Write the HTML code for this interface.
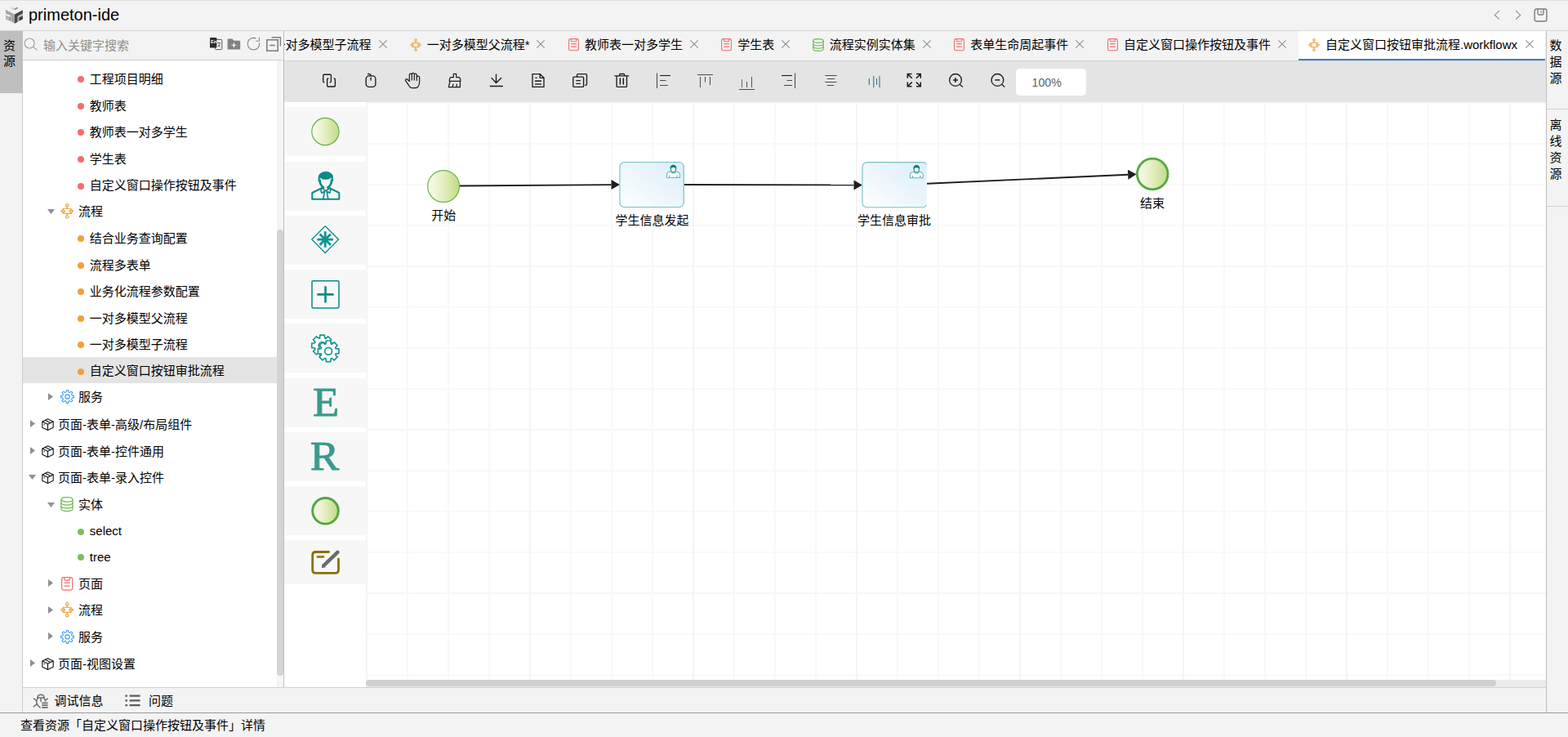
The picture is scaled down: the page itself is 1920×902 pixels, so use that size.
<!DOCTYPE html><html lang="zh-CN"><head><meta charset="utf-8"><title>primeton-ide</title><style>
*{box-sizing:border-box;margin:0;padding:0}
html,body{width:1920px;height:902px;overflow:hidden;background:#f3f3f3}
body{font-family:"Liberation Sans","Noto Sans CJK SC",sans-serif;font-size:15px;color:#000;position:relative}
.abs{position:absolute}
svg{position:absolute;overflow:visible}
.t{position:absolute;white-space:nowrap;line-height:20px;height:20px}
</style></head><body>
<div class="abs" style="left:0;top:0;width:1920px;height:1px;background:#dedede"></div>
<div class="abs" style="left:0;top:37px;width:1920px;height:1px;background:#d6d6d6"></div>
<div class="abs" style="left:0;top:38px;width:28px;height:834px;background:#f3f3f3;border-right:1px solid #cdcdcd"></div>
<div class="abs" style="left:0;top:38px;width:27.5px;height:76.4px;background:#bfbfbf"></div>
<div class="t" style="left:3.5px;top:45.6px;width:16px;text-align:center">资</div>
<div class="t" style="left:3.5px;top:64.8px;width:16px;text-align:center">源</div>
<div class="abs" style="left:28px;top:73px;width:319px;height:1px;background:#cfcfcf"></div>
<div class="abs" style="left:28px;top:74px;width:311px;height:767px;background:#fff"></div>
<div class="abs" style="left:339px;top:74px;width:8px;height:767px;background:#f5f5f5"></div>
<div class="abs" style="left:339px;top:281px;width:8px;height:546px;background:#d4d4d4;border-radius:4px"></div>
<div class="abs" style="left:347px;top:38px;width:1px;height:803px;background:#bdbdbd"></div>
<div class="abs" style="left:348px;top:74px;width:1545px;height:1px;background:#d2d2d2"></div>
<div class="abs" style="left:348px;top:75px;width:1545px;height:50px;background:#e4e4e4"></div>
<div class="abs" style="left:348px;top:125px;width:1545px;height:716px;background:#fff"></div>
<div class="abs" style="left:448px;top:832px;width:1445px;height:9px;background:#ebebeb"></div>
<div class="abs" style="left:448px;top:832px;width:1384px;height:8px;background:#d0d0d0;border-radius:4px"></div>
<div class="abs" style="left:28px;top:841px;width:1865px;height:1px;background:#d2d2d2"></div>
<div class="abs" style="left:0;top:872px;width:1920px;height:1px;background:#9a9a9a"></div>
<div class="abs" style="left:1893px;top:38px;width:1px;height:834px;background:#bdbdbd"></div>
<div class="abs" style="left:1894px;top:133px;width:26px;height:1px;background:#d0d0d0"></div>
<div class="abs" style="left:1894px;top:252px;width:26px;height:1px;background:#d0d0d0"></div>
<div class="t" style="left:1897px;top:46px;width:16px;text-align:center">数</div>
<div class="t" style="left:1897px;top:66px;width:16px;text-align:center">据</div>
<div class="t" style="left:1897px;top:86px;width:16px;text-align:center">源</div>
<div class="t" style="left:1897px;top:143px;width:16px;text-align:center">离</div>
<div class="t" style="left:1897px;top:163px;width:16px;text-align:center">线</div>
<div class="t" style="left:1897px;top:183px;width:16px;text-align:center">资</div>
<div class="t" style="left:1897px;top:203px;width:16px;text-align:center">源</div>
<div class="t" style="left:35px;top:6px;font-size:20px;line-height:24px;height:24px">primeton-ide</div>
<div class="t" style="left:25px;top:878px">查看资源「自定义窗口操作按钮及事件」详情</div>
<div class="t" style="left:66.6px;top:848.2px">调试信息</div>
<div class="t" style="left:182px;top:848.2px">问题</div>
<div class="t" style="left:53px;top:45.6px;color:#8e8e8e">输入关键字搜索</div>
<div class="abs" style="left:28px;top:437px;width:311px;height:32px;background:#e4e4e4"></div>
<div class="abs" style="left:95px;top:93.1px;width:8px;height:8px;border-radius:50%;background:#f56c6c"></div>
<div class="t" style="left:109.8px;top:87.0px">工程项目明细</div>
<div class="abs" style="left:95px;top:125.69999999999999px;width:8px;height:8px;border-radius:50%;background:#f56c6c"></div>
<div class="t" style="left:109.8px;top:119.6px">教师表</div>
<div class="abs" style="left:95px;top:158.3px;width:8px;height:8px;border-radius:50%;background:#f56c6c"></div>
<div class="t" style="left:109.8px;top:152.2px">教师表一对多学生</div>
<div class="abs" style="left:95px;top:190.9px;width:8px;height:8px;border-radius:50%;background:#f56c6c"></div>
<div class="t" style="left:109.8px;top:184.8px">学生表</div>
<div class="abs" style="left:95px;top:223.5px;width:8px;height:8px;border-radius:50%;background:#f56c6c"></div>
<div class="t" style="left:109.8px;top:217.4px">自定义窗口操作按钮及事件</div>
<svg style="left:57.8px;top:256.0px" width="9" height="6" viewBox="0 0 9 6"><path d="M0 0H9L4.5 6Z" fill="#909090"/></svg>
<svg style="left:73.81px;top:249.44px" width="16.38" height="18.72" viewBox="0 0 14 16"><g fill="none" stroke="#e6a23c" stroke-width="1.0"><circle cx="7" cy="2" r="1.4"/><circle cx="7" cy="14" r="1.4"/><path d="M7 3.4V5.35M7 10.65V12.6" stroke-width="1.2"/><path d="M2.8 7.1V5.35H11.2V7.1M2.8 8.9V10.65H11.2V8.9"/><rect x="0.7" y="7.1" width="4.1" height="1.8" rx="0.9"/><rect x="9.2" y="7.1" width="4.1" height="1.8" rx="0.9"/></g></svg>
<div class="t" style="left:96.0px;top:249.4px">流程</div>
<div class="abs" style="left:95px;top:288.4px;width:8px;height:8px;border-radius:50%;background:#f2a03c"></div>
<div class="t" style="left:109.8px;top:282.3px">结合业务查询配置</div>
<div class="abs" style="left:95px;top:320.6px;width:8px;height:8px;border-radius:50%;background:#f2a03c"></div>
<div class="t" style="left:109.8px;top:314.5px">流程多表单</div>
<div class="abs" style="left:95px;top:353.2px;width:8px;height:8px;border-radius:50%;background:#f2a03c"></div>
<div class="t" style="left:109.8px;top:347.1px">业务化流程参数配置</div>
<div class="abs" style="left:95px;top:385.8px;width:8px;height:8px;border-radius:50%;background:#f2a03c"></div>
<div class="t" style="left:109.8px;top:379.7px">一对多模型父流程</div>
<div class="abs" style="left:95px;top:418.3px;width:8px;height:8px;border-radius:50%;background:#f2a03c"></div>
<div class="t" style="left:109.8px;top:412.2px">一对多模型子流程</div>
<div class="abs" style="left:95px;top:450.5px;width:8px;height:8px;border-radius:50%;background:#f2a03c"></div>
<div class="t" style="left:109.8px;top:444.4px">自定义窗口按钮审批流程</div>
<svg style="left:59.3px;top:480.9px" width="6" height="9" viewBox="0 0 6 9"><path d="M0 0L6 4.5L0 9Z" fill="#909090"/></svg>
<svg style="left:73.6px;top:477.3px" width="17" height="17" viewBox="0 0 17 17"><g fill="none" stroke="#409eff" stroke-width="1.15" stroke-linejoin="round"><path d="M7.10 2.67 L7.44 0.57 L9.56 0.57 L9.90 2.67 L11.63 3.38 L13.35 2.14 L14.86 3.65 L13.62 5.37 L14.33 7.10 L16.43 7.44 L16.43 9.56 L14.33 9.90 L13.62 11.63 L14.86 13.35 L13.35 14.86 L11.63 13.62 L9.90 14.33 L9.56 16.43 L7.44 16.43 L7.10 14.33 L5.37 13.62 L3.65 14.86 L2.14 13.35 L3.38 11.63 L2.67 9.90 L0.57 9.56 L0.57 7.44 L2.67 7.10 L3.38 5.37 L2.14 3.65 L3.65 2.14 L5.37 3.38Z"/><circle cx="8.5" cy="8.5" r="2.6"/></g></svg>
<div class="t" style="left:96.0px;top:476.4px">服务</div>
<svg style="left:36.8px;top:514.1px" width="6" height="9" viewBox="0 0 6 9"><path d="M0 0L6 4.5L0 9Z" fill="#909090"/></svg>
<svg style="left:51.1px;top:512.1px" width="15" height="15.2" viewBox="0 0 15 15.2"><g fill="none" stroke="#111" stroke-width="1.1" stroke-linejoin="round"><path d="M7.5 0.7L14.2 3.9V11.3L7.5 14.5L0.8 11.3V3.9Z"/><path d="M0.8 3.9L7.5 7.2L14.2 3.9M7.5 7.2V14.5"/><path d="M4.1 2.3L10.8 5.6" /><path d="M3.2 6.6V8.4" stroke-width="1"/></g></svg>
<div class="t" style="left:71.1px;top:509.6px">页面-表单-高级/布局组件</div>
<svg style="left:36.8px;top:547.0px" width="6" height="9" viewBox="0 0 6 9"><path d="M0 0L6 4.5L0 9Z" fill="#909090"/></svg>
<svg style="left:51.1px;top:545.0px" width="15" height="15.2" viewBox="0 0 15 15.2"><g fill="none" stroke="#111" stroke-width="1.1" stroke-linejoin="round"><path d="M7.5 0.7L14.2 3.9V11.3L7.5 14.5L0.8 11.3V3.9Z"/><path d="M0.8 3.9L7.5 7.2L14.2 3.9M7.5 7.2V14.5"/><path d="M4.1 2.3L10.8 5.6" /><path d="M3.2 6.6V8.4" stroke-width="1"/></g></svg>
<div class="t" style="left:71.1px;top:542.5px">页面-表单-控件通用</div>
<svg style="left:35.3px;top:581.4px" width="9" height="6" viewBox="0 0 9 6"><path d="M0 0H9L4.5 6Z" fill="#909090"/></svg>
<svg style="left:51.1px;top:577.3px" width="15" height="15.2" viewBox="0 0 15 15.2"><g fill="none" stroke="#111" stroke-width="1.1" stroke-linejoin="round"><path d="M7.5 0.7L14.2 3.9V11.3L7.5 14.5L0.8 11.3V3.9Z"/><path d="M0.8 3.9L7.5 7.2L14.2 3.9M7.5 7.2V14.5"/><path d="M4.1 2.3L10.8 5.6" /><path d="M3.2 6.6V8.4" stroke-width="1"/></g></svg>
<div class="t" style="left:71.1px;top:574.8px">页面-表单-录入控件</div>
<svg style="left:57.8px;top:614.5px" width="9" height="6" viewBox="0 0 9 6"><path d="M0 0H9L4.5 6Z" fill="#909090"/></svg>
<svg style="left:74.12px;top:608.18px" width="15.96" height="18.24" viewBox="0 0 14 16"><g fill="none" stroke="#74b957" stroke-width="1.1"><ellipse cx="7" cy="3" rx="6.2" ry="2.4"/><path d="M0.8 3V13C0.8 14.4 3.6 15.4 7 15.4S13.2 14.4 13.2 13V3"/><path d="M0.8 6.4C0.8 7.8 3.6 8.8 7 8.8S13.2 7.8 13.2 6.4"/><path d="M0.8 9.8C0.8 11.2 3.6 12.2 7 12.2S13.2 11.2 13.2 9.8"/></g></svg>
<div class="t" style="left:96.0px;top:607.9px">实体</div>
<div class="abs" style="left:95px;top:646.5px;width:8px;height:8px;border-radius:50%;background:#7cbc5a"></div>
<div class="t" style="left:109.8px;top:640.1px">select</div>
<div class="abs" style="left:95px;top:678.3px;width:8px;height:8px;border-radius:50%;background:#7cbc5a"></div>
<div class="t" style="left:109.8px;top:671.9px">tree</div>
<svg style="left:59.3px;top:709.3px" width="6" height="9" viewBox="0 0 6 9"><path d="M0 0L6 4.5L0 9Z" fill="#909090"/></svg>
<svg style="left:74.85px;top:705.79px" width="14.3" height="16.83" viewBox="0 0 13 15.3"><g fill="none" stroke="#f56c6c" stroke-width="1.1"><rect x="0.6" y="0.6" width="11.8" height="14.1" rx="1.7"/><path d="M3.3 0.8V2.8Q3.3 3.8 4.3 3.8H8.7Q9.7 3.8 9.7 2.8V0.8"/><path d="M3.2 6.7H9.8M3.2 10.1H9.8" stroke-width="1.15"/></g></svg>
<div class="t" style="left:96.0px;top:704.8px">页面</div>
<svg style="left:59.3px;top:741.8px" width="6" height="9" viewBox="0 0 6 9"><path d="M0 0L6 4.5L0 9Z" fill="#909090"/></svg>
<svg style="left:73.81px;top:737.34px" width="16.38" height="18.72" viewBox="0 0 14 16"><g fill="none" stroke="#e6a23c" stroke-width="1.0"><circle cx="7" cy="2" r="1.4"/><circle cx="7" cy="14" r="1.4"/><path d="M7 3.4V5.35M7 10.65V12.6" stroke-width="1.2"/><path d="M2.8 7.1V5.35H11.2V7.1M2.8 8.9V10.65H11.2V8.9"/><rect x="0.7" y="7.1" width="4.1" height="1.8" rx="0.9"/><rect x="9.2" y="7.1" width="4.1" height="1.8" rx="0.9"/></g></svg>
<div class="t" style="left:96.0px;top:737.3px">流程</div>
<svg style="left:59.3px;top:774.3px" width="6" height="9" viewBox="0 0 6 9"><path d="M0 0L6 4.5L0 9Z" fill="#909090"/></svg>
<svg style="left:73.6px;top:770.7px" width="17" height="17" viewBox="0 0 17 17"><g fill="none" stroke="#409eff" stroke-width="1.15" stroke-linejoin="round"><path d="M7.10 2.67 L7.44 0.57 L9.56 0.57 L9.90 2.67 L11.63 3.38 L13.35 2.14 L14.86 3.65 L13.62 5.37 L14.33 7.10 L16.43 7.44 L16.43 9.56 L14.33 9.90 L13.62 11.63 L14.86 13.35 L13.35 14.86 L11.63 13.62 L9.90 14.33 L9.56 16.43 L7.44 16.43 L7.10 14.33 L5.37 13.62 L3.65 14.86 L2.14 13.35 L3.38 11.63 L2.67 9.90 L0.57 9.56 L0.57 7.44 L2.67 7.10 L3.38 5.37 L2.14 3.65 L3.65 2.14 L5.37 3.38Z"/><circle cx="8.5" cy="8.5" r="2.6"/></g></svg>
<div class="t" style="left:96.0px;top:769.8px">服务</div>
<svg style="left:36.8px;top:807.1px" width="6" height="9" viewBox="0 0 6 9"><path d="M0 0L6 4.5L0 9Z" fill="#909090"/></svg>
<svg style="left:51.1px;top:805.1px" width="15" height="15.2" viewBox="0 0 15 15.2"><g fill="none" stroke="#111" stroke-width="1.1" stroke-linejoin="round"><path d="M7.5 0.7L14.2 3.9V11.3L7.5 14.5L0.8 11.3V3.9Z"/><path d="M0.8 3.9L7.5 7.2L14.2 3.9M7.5 7.2V14.5"/><path d="M4.1 2.3L10.8 5.6" /><path d="M3.2 6.6V8.4" stroke-width="1"/></g></svg>
<div class="t" style="left:71.1px;top:802.6px">页面-视图设置</div>
<div class="abs" style="left:348px;top:38px;width:1545px;height:35px;overflow:hidden">
<div class="t" style="left:-13.5px;top:7.0px">一对多模型子流程</div>
<svg style="left:116.30000000000001px;top:11.399999999999999px" width="10" height="10" viewBox="0 0 10 10"><path d="M0.3 0.3L9.7 9.7M9.7 0.3L0.3 9.7" stroke="#8c8f94" stroke-width="1.1" fill="none"/></svg>
<svg style="left:153.7px;top:8.600000000000001px" width="14" height="16" viewBox="0 0 14 16"><g fill="none" stroke="#e6a23c" stroke-width="1.0"><circle cx="7" cy="2" r="1.4"/><circle cx="7" cy="14" r="1.4"/><path d="M7 3.4V5.35M7 10.65V12.6" stroke-width="1.2"/><path d="M2.8 7.1V5.35H11.2V7.1M2.8 8.9V10.65H11.2V8.9"/><rect x="0.7" y="7.1" width="4.1" height="1.8" rx="0.9"/><rect x="9.2" y="7.1" width="4.1" height="1.8" rx="0.9"/></g></svg>
<div class="t" style="left:174.79999999999995px;top:7.0px">一对多模型父流程*</div>
<svg style="left:309.29999999999995px;top:11.399999999999999px" width="10" height="10" viewBox="0 0 10 10"><path d="M0.3 0.3L9.7 9.7M9.7 0.3L0.3 9.7" stroke="#8c8f94" stroke-width="1.1" fill="none"/></svg>
<svg style="left:347.9px;top:8.950000000000001px" width="13" height="15.3" viewBox="0 0 13 15.3"><g fill="none" stroke="#f56c6c" stroke-width="1.1"><rect x="0.6" y="0.6" width="11.8" height="14.1" rx="1.7"/><path d="M3.3 0.8V2.8Q3.3 3.8 4.3 3.8H8.7Q9.7 3.8 9.7 2.8V0.8"/><path d="M3.2 6.7H9.8M3.2 10.1H9.8" stroke-width="1.15"/></g></svg>
<div class="t" style="left:368px;top:7.0px">教师表一对多学生</div>
<svg style="left:496.70000000000005px;top:11.399999999999999px" width="10" height="10" viewBox="0 0 10 10"><path d="M0.3 0.3L9.7 9.7M9.7 0.3L0.3 9.7" stroke="#8c8f94" stroke-width="1.1" fill="none"/></svg>
<svg style="left:534.8000000000001px;top:8.950000000000001px" width="13" height="15.3" viewBox="0 0 13 15.3"><g fill="none" stroke="#f56c6c" stroke-width="1.1"><rect x="0.6" y="0.6" width="11.8" height="14.1" rx="1.7"/><path d="M3.3 0.8V2.8Q3.3 3.8 4.3 3.8H8.7Q9.7 3.8 9.7 2.8V0.8"/><path d="M3.2 6.7H9.8M3.2 10.1H9.8" stroke-width="1.15"/></g></svg>
<div class="t" style="left:555.3px;top:7.0px">学生表</div>
<svg style="left:609.4px;top:11.399999999999999px" width="10" height="10" viewBox="0 0 10 10"><path d="M0.3 0.3L9.7 9.7M9.7 0.3L0.3 9.7" stroke="#8c8f94" stroke-width="1.1" fill="none"/></svg>
<svg style="left:647.4px;top:8.5px" width="14" height="16" viewBox="0 0 14 16"><g fill="none" stroke="#6db650" stroke-width="1.1"><ellipse cx="7" cy="3" rx="6.2" ry="2.4"/><path d="M0.8 3V13C0.8 14.4 3.6 15.4 7 15.4S13.2 14.4 13.2 13V3"/><path d="M0.8 6.4C0.8 7.8 3.6 8.8 7 8.8S13.2 7.8 13.2 6.4"/><path d="M0.8 9.8C0.8 11.2 3.6 12.2 7 12.2S13.2 11.2 13.2 9.8"/></g></svg>
<div class="t" style="left:667.7px;top:7.0px">流程实例实体集</div>
<svg style="left:782px;top:11.399999999999999px" width="10" height="10" viewBox="0 0 10 10"><path d="M0.3 0.3L9.7 9.7M9.7 0.3L0.3 9.7" stroke="#8c8f94" stroke-width="1.1" fill="none"/></svg>
<svg style="left:820.0999999999999px;top:8.950000000000001px" width="13" height="15.3" viewBox="0 0 13 15.3"><g fill="none" stroke="#f56c6c" stroke-width="1.1"><rect x="0.6" y="0.6" width="11.8" height="14.1" rx="1.7"/><path d="M3.3 0.8V2.8Q3.3 3.8 4.3 3.8H8.7Q9.7 3.8 9.7 2.8V0.8"/><path d="M3.2 6.7H9.8M3.2 10.1H9.8" stroke-width="1.15"/></g></svg>
<div class="t" style="left:840.3px;top:7.0px">表单生命周起事件</div>
<svg style="left:969.4000000000001px;top:11.399999999999999px" width="10" height="10" viewBox="0 0 10 10"><path d="M0.3 0.3L9.7 9.7M9.7 0.3L0.3 9.7" stroke="#8c8f94" stroke-width="1.1" fill="none"/></svg>
<svg style="left:1007.8px;top:8.950000000000001px" width="13" height="15.3" viewBox="0 0 13 15.3"><g fill="none" stroke="#f56c6c" stroke-width="1.1"><rect x="0.6" y="0.6" width="11.8" height="14.1" rx="1.7"/><path d="M3.3 0.8V2.8Q3.3 3.8 4.3 3.8H8.7Q9.7 3.8 9.7 2.8V0.8"/><path d="M3.2 6.7H9.8M3.2 10.1H9.8" stroke-width="1.15"/></g></svg>
<div class="t" style="left:1028px;top:7.0px">自定义窗口操作按钮及事件</div>
<svg style="left:1217px;top:11.399999999999999px" width="10" height="10" viewBox="0 0 10 10"><path d="M0.3 0.3L9.7 9.7M9.7 0.3L0.3 9.7" stroke="#8c8f94" stroke-width="1.1" fill="none"/></svg>
</div>
<div class="abs" style="left:1590px;top:38px;width:302px;height:36px;background:#fff;border-bottom:2px solid #3a7fc6"></div>
<svg style="left:1602px;top:46.6px" width="14" height="16" viewBox="0 0 14 16"><g fill="none" stroke="#e6a23c" stroke-width="1.0"><circle cx="7" cy="2" r="1.4"/><circle cx="7" cy="14" r="1.4"/><path d="M7 3.4V5.35M7 10.65V12.6" stroke-width="1.2"/><path d="M2.8 7.1V5.35H11.2V7.1M2.8 8.9V10.65H11.2V8.9"/><rect x="0.7" y="7.1" width="4.1" height="1.8" rx="0.9"/><rect x="9.2" y="7.1" width="4.1" height="1.8" rx="0.9"/></g></svg>
<div class="t" style="left:1623px;top:45.0px">自定义窗口按钮审批流程.workflowx</div>
<svg style="left:1867.5px;top:49.4px" width="10" height="10" viewBox="0 0 10 10"><path d="M0.3 0.3L9.7 9.7M9.7 0.3L0.3 9.7" stroke="#8c8f94" stroke-width="1.1" fill="none"/></svg>
<svg style="left:1828px;top:11px" width="10" height="14" viewBox="0 0 10 14"><path d="M7.9 2.1L2.3 7.4L7.9 12.7" fill="none" stroke="#8a8a8a" stroke-width="1.1"/></svg>
<svg style="left:1854px;top:11px" width="10" height="14" viewBox="0 0 10 14"><path d="M2.1 2.1L7.7 7.4L2.1 12.7" fill="none" stroke="#8a8a8a" stroke-width="1.1"/></svg>
<svg style="left:1878px;top:10px" width="18" height="18" viewBox="0 0 18 18"><g fill="none" stroke="#7b7b7b" stroke-width="1.4"><rect x="1.1" y="1" width="14.8" height="15" rx="2.2"/><path d="M5 1V6.4Q5 8 6.6 8H10.4Q12 8 12 6.4V1" stroke-width="1.3"/><path d="M9.1 3.2V5.8" stroke-width="1.2"/></g></svg>
<svg style="left:29.2px;top:45.8px" width="18" height="17" viewBox="0 0 18 17"><g fill="none" stroke="#9e9e9e" stroke-width="1.1"><circle cx="7.2" cy="7" r="6"/><path d="M11.6 11.4L16.4 15.2"/></g></svg>
<svg style="left:256px;top:45px" width="17" height="17" viewBox="0 0 17 17"><g><rect x="7.6" y="3.4" width="8.2" height="12.2" rx="1" fill="#f6f6f6" stroke="#555" stroke-width="1"/><path d="M10 7.5H14M12 6.6V7.5M10.4 12.4C12 11.6 13 10 13.4 7.6M10.8 9.4C11.4 10.8 12.6 11.8 14 12.4" stroke="#444" stroke-width="0.8" fill="none"/><rect x="1" y="1" width="8.4" height="12.6" rx="1.2" fill="#2e2e2e"/><text x="2" y="8.4" font-size="5.6" font-family="Liberation Sans" fill="#fff" font-weight="bold">En</text></g></svg>
<svg style="left:278px;top:47px" width="17" height="14" viewBox="0 0 17 14"><path d="M1.2 0.6H6.4L8.4 2.8H15C15.7 2.8 16.2 3.3 16.2 4V12.6C16.2 13.2 15.7 13.6 15 13.6H1.8C1.1 13.6 0.6 13.2 0.6 12.6V1.6C0.6 1 0.9 0.6 1.2 0.6Z" fill="#828282"/><path d="M8.4 5.4V11M5.6 8.2H11.2" stroke="#fff" stroke-width="1.1"/></svg>
<svg style="left:302px;top:45px" width="18" height="18" viewBox="0 0 18 18"><g fill="none" stroke="#858585" stroke-width="1.1"><path d="M15.6 7.2A7.3 7.3 0 1 1 11.6 2.1"/><path d="M11 5.2L15.6 5L15.2 0.8"/></g></svg>
<svg style="left:325px;top:44px" width="20" height="20" viewBox="0 0 20 20"><g fill="none" stroke="#808080" stroke-width="1.6"><rect x="1.8" y="4.8" width="13.4" height="13.4"/><path d="M5.2 11.5H11.8"/><path d="M7.6 1.8H18.4V12.6" stroke-width="1.4"/></g></svg>
<svg style="left:0px;top:0.6px" width="70" height="902" viewBox="0 0 70 902"><g fill="none" stroke="#6e6e6e" stroke-width="1.5" stroke-linecap="round"><path d="M46.2 852.5C46.2 848.2 53.9 848.2 53.9 852.5"/><path d="M45.7 853H54.4" stroke-width="1.7"/><path d="M46.3 853.4C44 856.4 43.6 861.2 49.2 864.8"/><path d="M50 854V857.4"/><path d="M53.9 853.4C55 854.6 55.5 855.8 55.6 857"/><path d="M41.3 854L44.8 856.6M41.3 863.6L44.8 861M58.3 854L55.6 856.2"/><path d="M51.3 859.3H58.6M51.3 862.1H58.6M51.3 864.9H58.6" stroke-width="1.8" stroke-linecap="butt"/></g></svg>
<svg style="left:153px;top:850px" width="19" height="15" viewBox="0 0 19 15"><g stroke="#5c5c5c" stroke-width="2.2"><path d="M0.4 1.6H3M0.4 7.4H3M0.4 13.2H3M5.6 1.6H18.6M5.6 7.4H18.6M5.6 13.2H18.6"/></g></svg>
<svg style="left:0;top:0" width="1920" height="130" viewBox="0 0 1920 130"><g fill="none" stroke="#1c1c1c" stroke-width="1.35" stroke-linecap="round" stroke-linejoin="round"><path d="M397 100.9 Q395.7 100.7 395.7 99.6V92.2Q395.7 91.2 396.7 91.2H404.4Q405.4 91.2 405.4 92.2V99.6Q405.4 100.7 404.2 100.9"/><path d="M401.8 96 Q400.6 96.2 400.6 97.3V105Q400.6 106 401.6 106H409.4Q410.4 106 410.4 105V97.3Q410.4 96.2 409.2 96"/></g><g fill="none" stroke="#1c1c1c" stroke-width="1.35" stroke-linecap="round" stroke-linejoin="round"><rect x="448.2" y="92.9" width="11.7" height="13.5" rx="3.6"/><path d="M454.1 95.2V98.1"/><path d="M454.1 92.8C454.1 91 452.6 90.3 450.6 90.5"/></g><path fill="none" stroke="#1c1c1c" stroke-width="1.2" stroke-linecap="round" stroke-linejoin="round" d="M501.3 99.6V91.7a1.5 1.5 0 0 1 3 0V98.0M504.3 91.7V90.9a1.5 1.5 0 0 1 3 0V98.0M507.3 91.7a1.5 1.5 0 0 1 3 0V98.4M510.3 94.7a1.65 1.65 0 0 1 3.3 0V100.5C513.6 103.5 512.9 105.3 511.6 106.5C510.8 107.3 510.0 107.7 508.8 107.7H504.6C503.2 107.7 502.3 107.1 501.5 105.9L496.6 98.6C495.9 97.3 497.6 96.0 498.8 97.0L501.3 99.6"/><path fill="none" stroke="#1c1c1c" stroke-width="1.25" stroke-linecap="round" stroke-linejoin="round" d="M555.3 94.6V90.9Q555.3 90.3 555.9 90.3H558.1Q558.7 90.3 558.7 90.9V94.6H561.4C562.8 94.6 563.9 96.2 563.9 99.3H550.3C550.3 96.2 551.4 94.6 552.8 94.6ZM551.0 99.4L549.3 106.6H563.4L563.4 99.4M554.9 103.2L554.0 106.6M559.4 103.2L558.9 106.6"/><g fill="none" stroke="#1c1c1c" stroke-width="1.35" stroke-linecap="round" stroke-linejoin="round"><path d="M607.5 91.1V101.4M601.9 95.4L607.5 101.5L613.6 95.4M600.3 105.5H615.3"/></g><g fill="none" stroke="#1c1c1c" stroke-width="1.35" stroke-linecap="round" stroke-linejoin="round"><path d="M652 90.6H661.2L666 95.3V106.4H652Z"/><path d="M661.2 90.8V95.3H665.8"/></g><path d="M655.2 95.3H657.8" stroke="#1c1c1c" stroke-width="1.2"/><path d="M655 99.2H663M655 103H663" stroke="#333" stroke-width="1.7"/><g fill="none" stroke="#1c1c1c" stroke-width="1.35" stroke-linecap="round" stroke-linejoin="round"><rect x="701.8" y="94.1" width="12.8" height="12.3" rx="1.2"/><path d="M706.6 93.8V91.8Q706.6 90.6 707.8 90.6H717.3Q718.5 90.6 718.5 91.8V103Q718.5 104.3 716.6 104.3"/></g><path d="M705.3 98.6H711M705.3 102.3H711" stroke="#1c1c1c" stroke-width="1.3"/><g fill="none" stroke="#1c1c1c" stroke-width="1.35" stroke-linecap="round" stroke-linejoin="round"><path d="M752.9 92.8H769.8M758.6 92.6V91.4Q758.6 90.5 759.5 90.5H763.7Q764.6 90.5 764.6 91.4V92.6M755.1 93V105.4Q755.1 106.4 756.1 106.4H766.5Q767.5 106.4 767.5 105.4V93"/><path d="M759.4 96.1V102.9M763.3 96.1V102.9" stroke-width="1.5"/></g><path d="M804.5 89.5L804.5 108" stroke="#5a4458" stroke-width="1.1" fill="none"/><path d="M808 92.5L821 92.5" stroke="#1c1c1c" stroke-width="1.1" fill="none"/><path d="M808 98.5L815.5 98.5" stroke="#4a4a4a" stroke-width="1.0" fill="none"/><path d="M808 104.5L818 104.5" stroke="#4a4a4a" stroke-width="1.0" fill="none"/><path d="M854 91.5L873 91.5" stroke="#4a4a4a" stroke-width="1.0" fill="none"/><path d="M857.5 94L857.5 107" stroke="#5a4a4a" stroke-width="1.0" fill="none"/><path d="M863.5 94L863.5 100.5" stroke="#5a4458" stroke-width="1.0" fill="none"/><path d="M869.5 94L869.5 104" stroke="#5a4458" stroke-width="1.0" fill="none"/><path d="M905 109.5L924 109.5" stroke="#4a4a4a" stroke-width="1.0" fill="none"/><path d="M908.5 97L908.5 107" stroke="#6a6a6a" stroke-width="1.0" fill="none"/><path d="M914.5 100L914.5 107" stroke="#5a4458" stroke-width="1.0" fill="none"/><path d="M920.5 94L920.5 107" stroke="#5a4458" stroke-width="1.0" fill="none"/><path d="M973.5 89.5L973.5 108" stroke="#5a4458" stroke-width="1.1" fill="none"/><path d="M957 92.5L970 92.5" stroke="#1c1c1c" stroke-width="1.1" fill="none"/><path d="M963.5 98.5L970 98.5" stroke="#4a4a4a" stroke-width="1.0" fill="none"/><path d="M960 104.5L970 104.5" stroke="#4a4a4a" stroke-width="1.0" fill="none"/><path d="M1010.3 92.5L1024.4 92.5" stroke="#4a4a4a" stroke-width="1.0" fill="none"/><path d="M1012.8 96.5L1022 96.5" stroke="#4a4a4a" stroke-width="1.0" fill="none"/><path d="M1010.3 100.5L1024.4 100.5" stroke="#4a4a4a" stroke-width="1.0" fill="none"/><path d="M1012.8 104.5L1021 104.5" stroke="#4a4a4a" stroke-width="1.0" fill="none"/><path d="M1064.3 96L1064.3 104" stroke="#2e6c88" stroke-width="1.05" fill="none"/><path d="M1069.8 93L1069.8 107" stroke="#2e6c88" stroke-width="1.05" fill="none"/><path d="M1073.5 96L1073.5 104" stroke="#2e6c88" stroke-width="1.05" fill="none"/><path d="M1077 93L1077 107" stroke="#2e6c88" stroke-width="1.05" fill="none"/><path d="M1116.7 95.8L1111.3 90.6M1116.5 90.6H1111.3V95.8M1121.9 95.8L1127.3 90.6M1122.1 90.6H1127.3V95.8M1116.7 100.6L1111.3 105.8M1116.5 105.8H1111.3V100.6M1121.9 100.6L1127.3 105.8M1122.1 105.8H1127.3V100.6" fill="none" stroke="#1c1c1c" stroke-width="1.5"/><g fill="none" stroke="#1c1c1c" stroke-width="1.3"><circle cx="1170" cy="97.9" r="7.4"/><path d="M1175.3 103.3L1178.8 106.4"/><path d="M1167 97.9H1173M1170 94.9V100.9" stroke-width="1.5"/></g><g fill="none" stroke="#1c1c1c" stroke-width="1.3"><circle cx="1221.4" cy="97.9" r="7.4"/><path d="M1226.7 103.3L1230.2 106.4"/><path d="M1218.4 97.9H1224.4" stroke-width="1.5"/></g></svg>
<div class="abs" style="left:1244px;top:84px;width:86px;height:33px;background:#fff;border-radius:5px"></div>
<div class="t" style="left:1263.5px;top:90.5px;font-size:14.2px;color:#5f6266">100%</div>
<div class="abs" style="left:348px;top:131px;width:100px;height:60px;background:#f7f7f7"></div>
<div class="abs" style="left:348px;top:197.6px;width:100px;height:60px;background:#f7f7f7"></div>
<div class="abs" style="left:348px;top:264.1px;width:100px;height:59.6px;background:#f7f7f7"></div>
<div class="abs" style="left:348px;top:330.1px;width:100px;height:59.8px;background:#f7f7f7"></div>
<div class="abs" style="left:348px;top:395.9px;width:100px;height:59.8px;background:#f7f7f7"></div>
<div class="abs" style="left:348px;top:463px;width:100px;height:60px;background:#f7f7f7"></div>
<div class="abs" style="left:348px;top:528.8px;width:100px;height:60px;background:#f7f7f7"></div>
<div class="abs" style="left:348px;top:595.2px;width:100px;height:59.6px;background:#f7f7f7"></div>
<div class="abs" style="left:348px;top:660.8px;width:100px;height:54.4px;background:#f7f7f7"></div>
<svg style="left:0;top:0" width="1920" height="902" viewBox="0 0 1920 902"><defs>
<linearGradient id="gg" x1="0" y1="0" x2="1" y2="0"><stop offset="0" stop-color="#fafcf0"/><stop offset="0.45" stop-color="#e6efc4"/><stop offset="1" stop-color="#c3da86"/></linearGradient>
<linearGradient id="tg" x1="0" y1="1" x2="1" y2="0"><stop offset="0" stop-color="#ffffff"/><stop offset="0.35" stop-color="#f1f8fc"/><stop offset="1" stop-color="#dbeef8"/></linearGradient>
<linearGradient id="lg" x1="0" y1="0" x2="1" y2="1"><stop offset="0" stop-color="#45a596"/><stop offset="1" stop-color="#2f8f84"/></linearGradient>
</defs><circle cx="398.4" cy="161" r="16.6" fill="url(#gg)" stroke="#62b146" stroke-width="1.2"/><g transform="translate(373,203) scale(1.0)" fill="none" stroke="#0a8a84" stroke-width="2.0" stroke-linejoin="round" stroke-linecap="round"><path d="M18.6 17.5C18.6 22 21 25 23.2 26.6M33 17.5C33 22 30.6 25 28.4 26.6" stroke-width="2.6"/><path d="M17.2 18.8C15.8 11 19.6 8.6 21.4 8.4L22.2 7.4L23.4 7.9L24.6 6.9L25.9 7.7L27.2 6.9L28.4 7.9L29.6 7.5L30.4 8.5C32.4 8.8 35.8 11 34.4 18.8C34.2 16 33 14 31.8 14.8C29 16.9 22.6 16.9 19.8 14.8C18.6 14 17.4 16 17.2 18.8Z" fill="#0a8a84" stroke-width="0.8"/><path d="M21 27.2L9.3 33V40.7H42.3V33L30.6 27.2"/><path d="M21 27.4L19.6 28.8L20.8 33.2L25.8 30.4L30.8 33.2L32 28.8L30.6 27.4M21 27.4L25.8 30.4L30.6 27.4M24.4 31.6L22.8 40.4M27.2 31.6L28.8 40.4" stroke-width="1.6"/></g><path d="M398.2 276.65000000000003L414.59999999999997 293.05L398.2 309.45L381.8 293.05Z" fill="none" stroke="#0d968f" stroke-width="1.4"/><path d="M388.40 293.05L408.00 293.05M391.55 286.40L404.85 299.70M398.20 283.25L398.20 302.85M404.85 286.40L391.55 299.70" stroke="#0d968f" stroke-width="2.8" fill="none"/><rect x="382" y="343.7" width="33" height="33.4" rx="1.5" fill="none" stroke="#0a8a84" stroke-width="1.5"/><path d="M389.4 360.4H407.6M398.5 351.3V369.5" stroke="#0a8a84" stroke-width="2.6" stroke-linecap="round" fill="none"/><path d="M391.50 413.81L391.90 410.08L397.30 410.08L397.70 413.81L398.83 414.28L401.76 411.93L405.57 415.74L403.22 418.67L403.69 419.80L407.42 420.20L407.42 425.60L403.69 426.00L403.22 427.13L405.57 430.06L401.76 433.87L398.83 431.52L397.70 431.99L397.30 435.72L391.90 435.72L391.50 431.99L390.37 431.52L387.44 433.87L383.63 430.06L385.98 427.13L385.51 426.00L381.78 425.60L381.78 420.20L385.51 419.80L385.98 418.67L383.63 415.74L387.44 411.93L390.37 414.28Z" fill="#fff" stroke="#1a9690" stroke-width="1.7" stroke-linejoin="miter"/><circle cx="394.6" cy="422.9" r="4.4" fill="none" stroke="#1a9690" stroke-width="1.7"/><path d="M399.00 420.71L399.40 416.98L404.80 416.98L405.20 420.71L406.33 421.18L409.26 418.83L413.07 422.64L410.72 425.57L411.19 426.70L414.92 427.10L414.92 432.50L411.19 432.90L410.72 434.03L413.07 436.96L409.26 440.77L406.33 438.42L405.20 438.89L404.80 442.62L399.40 442.62L399.00 438.89L397.87 438.42L394.94 440.77L391.13 436.96L393.48 434.03L393.01 432.90L389.28 432.50L389.28 427.10L393.01 426.70L393.48 425.57L391.13 422.64L394.94 418.83L397.87 421.18Z" fill="#fff" stroke="#1a9690" stroke-width="1.7" stroke-linejoin="miter"/><circle cx="402.1" cy="429.8" r="4.4" fill="none" stroke="#1a9690" stroke-width="1.7"/><text x="382.9" y="509.1" font-family="Liberation Serif" font-size="51" fill="#3b9a8c" stroke="#3b9a8c" stroke-width="0.9" stroke-linejoin="round" textLength="32.2" lengthAdjust="spacingAndGlyphs">E</text><text x="379.8" y="575.0" font-family="Liberation Serif" font-size="51" fill="#3b9a8c" stroke="#3b9a8c" stroke-width="0.9" stroke-linejoin="round" textLength="35.6" lengthAdjust="spacingAndGlyphs">R</text><circle cx="398.5" cy="625.3" r="15.8" fill="url(#gg)" stroke="#52a840" stroke-width="2.9"/><g transform="translate(373,663)" fill="none" stroke-linecap="round"><path d="M29.6 12.5H13.6Q9.7 12.5 9.7 16.4V34.4Q9.7 38.3 13.6 38.3H37.6Q41.5 38.3 41.5 34.4V21.2" stroke="#8a7008" stroke-width="2.8"/><path d="M15.9 18.5H23" stroke="#8a7008" stroke-width="2.6"/><path d="M40.4 12.9L24 28.6" stroke="#6b6b6b" stroke-width="4.6"/><path d="M20.9 31.9L21.2 27.2L26 31.4Z" fill="#6b6b6b" stroke="none"/></g></svg>
<svg style="left:0;top:0" width="1920" height="902" viewBox="0 0 1920 902"><path d="M448 176H1893M448 226H1893M448 276H1893M448 376H1893M448 426H1893M448 476H1893M448 576H1893M448 626H1893M448 676H1893M448 776H1893M448 826H1893" stroke="#f9f9f9" stroke-width="2" fill="none"/><path d="M448 126H1893M448 326H1893M448 526H1893M448 726H1893" stroke="#f6f6f6" stroke-width="2" fill="none"/><path d="M499 125V832M549 125V832M599 125V832M699 125V832M749 125V832M799 125V832M899 125V832M949 125V832M999 125V832M1099 125V832M1149 125V832M1199 125V832M1299 125V832M1349 125V832M1399 125V832M1499 125V832M1549 125V832M1599 125V832M1699 125V832M1749 125V832M1799 125V832" stroke="#f8f8f8" stroke-width="2" fill="none"/><path d="M449 125V832M649 125V832M849 125V832M1049 125V832M1249 125V832M1449 125V832M1649 125V832M1849 125V832" stroke="#f4f4f4" stroke-width="2" fill="none"/><path d="M563 227.5L748.50 226.08" stroke="#1e1e1e" stroke-width="1.9" fill="none"/><path d="M758.9 226L748.55 232.08L748.45 220.08Z" fill="#1e1e1e"/><path d="M838 226L1045.50 226.38" stroke="#1e1e1e" stroke-width="1.9" fill="none"/><path d="M1055.9 226.4L1045.49 232.38L1045.51 220.38Z" fill="#1e1e1e"/><path d="M1135 224.8L1381.21 213.77" stroke="#1e1e1e" stroke-width="1.9" fill="none"/><path d="M1391.6 213.3L1381.48 219.76L1380.94 207.77Z" fill="#1e1e1e"/><circle cx="543.1" cy="228" r="19.4" fill="url(#gg)" stroke="#6cb64e" stroke-width="1.2"/><rect x="758.9499999999999" y="198.45000000000002" width="78.3" height="55.1" rx="5.6" fill="url(#tg)" stroke="#78c1c1" stroke-width="1.15"/><path d="M816.5 217.5V214.1C816.5 211.3 818.3 210.1 821.3 209.8C822.3 212.7 826.7 212.7 827.7 209.8C830.7 210.1 832.5 211.3 832.5 214.1V217.5Z" fill="#fbfefe" stroke="#6ab9b4" stroke-width="1.1" stroke-linejoin="round"/><path d="M819.6 214.7V217.5M829.0 214.7V217.5" stroke="#5fb3ae" stroke-width="1.1" fill="none"/><ellipse cx="824.5" cy="206.7" rx="3.1" ry="4.0" fill="#fafdfe" stroke="#2c9a93" stroke-width="1.3"/><path d="M820.6 206.5C820.1 200.2 828.9 200.2 828.4 206.5C827.5 204.4 821.5 204.4 820.6 206.5Z" fill="#027c75"/><clipPath id="c2"><rect x="1050" y="190" width="84.6" height="70"/></clipPath><g clip-path="url(#c2)"><rect x="1055.95" y="198.65" width="79.7" height="55.1" rx="5.6" fill="url(#tg)" stroke="#78c1c1" stroke-width="1.15"/><path d="M1114.3 217.7V214.3C1114.3 211.5 1116.1 210.3 1119.1 210.0C1120.1 212.9 1124.5 212.9 1125.5 210.0C1128.5 210.3 1130.3 211.5 1130.3 214.3V217.7Z" fill="#fbfefe" stroke="#6ab9b4" stroke-width="1.1" stroke-linejoin="round"/><path d="M1117.4 214.9V217.7M1126.8 214.9V217.7" stroke="#5fb3ae" stroke-width="1.1" fill="none"/><ellipse cx="1122.3" cy="206.9" rx="3.1" ry="4.0" fill="#fafdfe" stroke="#2c9a93" stroke-width="1.3"/><path d="M1118.4 206.7C1117.9 200.4 1126.7 200.4 1126.2 206.7C1125.3 204.6 1119.3 204.6 1118.4 206.7Z" fill="#027c75"/></g><circle cx="1411.2" cy="213" r="18.8" fill="url(#gg)" stroke="#55a942" stroke-width="2.8"/></svg>
<div class="t" style="left:443.29999999999995px;top:253.89999999999998px;width:200px;text-align:center">开始</div>
<div class="t" style="left:698.5px;top:259.6px;width:200px;text-align:center">学生信息发起</div>
<div class="t" style="left:995px;top:260.3px;width:200px;text-align:center">学生信息审批</div>
<div class="t" style="left:1311px;top:239.0px;width:200px;text-align:center">结束</div>
<svg style="left:0;top:0" width="40" height="36" viewBox="0 0 40 36"><path d="M17.5 6.4L27.9 12.1L18 17.3L6.9 12.1Z" fill="#efefef" opacity="0.55"/><path d="M6.9 12.1L18 17.4V28.8L13.6 26.6V19.6L6.9 16.4Z" fill="#a6a6a6"/><path d="M6.9 18.4L11.6 20.6V25.8L6.9 23.6Z" fill="#b4b4b4"/><path d="M11.6 20.6L13.2 19.9V25.1L11.6 25.8Z" fill="#858585"/><path d="M18 17.4L27.9 12.2V16.6L21.6 19.9V27L18 28.8Z" fill="#474747"/><path d="M21.6 19.9L23.4 19V25.4L21.6 26.4Z" fill="#a8a8a8"/><path d="M23.4 21.2L27.9 18.9V23.4L23.4 25.7Z" fill="#3c3c3c"/><path d="M23.4 19.0L27.9 16.7V18.9L23.4 21.2Z" fill="#bdbdbd"/><path d="M13.2 8.4L17.6 10.6V12.6L13.2 10.2Z" fill="#d2d2d2"/><path d="M17.6 10.6L21.6 8.6V10.4L17.6 12.6Z" fill="#8c8c8c"/></svg>
</body></html>
